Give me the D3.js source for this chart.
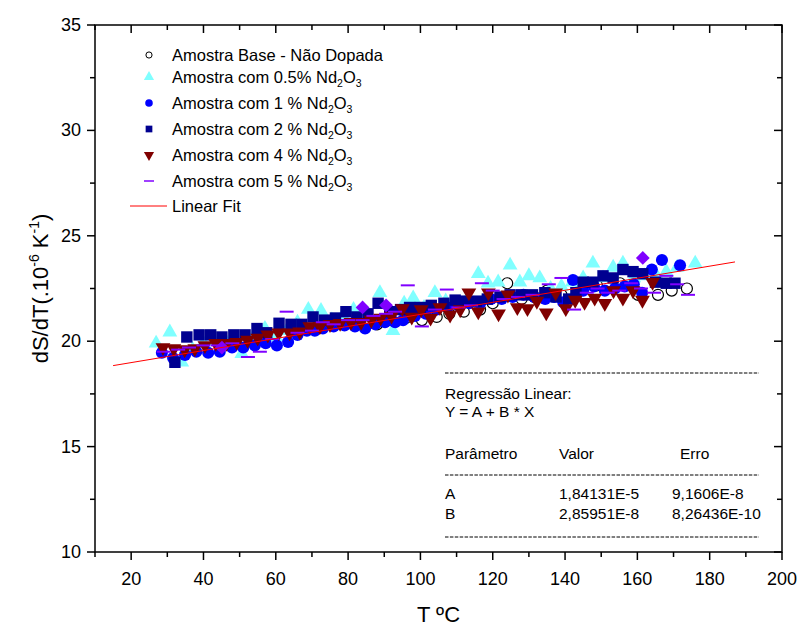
<!DOCTYPE html>
<html>
<head>
<meta charset="utf-8">
<script src="https://cdn.jsdelivr.net/npm/d3@7"></script>
<style>
  body { margin: 0; background: #fff; }
  svg text { font-family: Arial, "Liberation Sans", sans-serif; }
</style>
</head>
<body>
<script>
// values: [T (ºC), dS/dT (1e-6 K^-1)]
const baseSample = [[88,20.8],[92,21.0],[96,21.1],[100.4,21.0],[104.5,21.15],[108,21.3],[112,21.4],[116.5,21.5],[120,21.8],[124,22.75],[128,22.0],[131.5,22.1],[135,22.4],[139,22.2],[143.3,22.3],[148.8,22.65],[155.2,22.75],[160.2,22.2],[165.7,22.2],[169.5,22.4],[173.7,22.5]];
const nd05 = [[26.9,19.9],[30.7,20.43],[34,19.0],[37,19.6],[40,19.9],[43,20.0],[46.5,19.9],[50.6,19.4],[53.5,20.1],[57,20.6],[60,20.2],[63,20.5],[66,20.9],[69,21.5],[72.5,21.45],[75.5,21.0],[78.5,21.2],[81.5,21.5],[84.5,21.4],[88.8,22.3],[92.4,20.5],[95.5,21.8],[98,22.05],[101,21.6],[104,22.3],[107,21.9],[110,21.8],[113,22.0],[116,23.2],[118.7,22.75],[121.5,22.8],[124.8,23.6],[127.5,22.8],[130,23.1],[133,23.0],[136,22.5],[139,22.6],[142,22.8],[145,23.0],[147.7,23.7],[150.5,23.0],[153.3,23.5],[156,23.7],[159,23.0],[162,23.1],[165,23.2],[168,23.3],[171,23.5],[176,23.7]];
const nd1 = [[28.5,19.45],[31.6,19.2],[34.9,19.35],[38,19.5],[41.3,19.45],[44.5,19.5],[47.9,19.7],[51,19.7],[54.2,19.8],[57.2,19.9],[60.3,19.8],[63.4,19.96],[66,20.3],[68.6,20.5],[70.8,20.5],[73,20.6],[76,20.7],[79,20.75],[81.9,20.7],[84.7,20.6],[87.5,20.8],[90.2,20.9],[93,20.9],[95.2,21.0],[98.5,21.2],[101.5,21.3],[104.5,21.5],[107.5,21.6],[110.5,21.7],[113.5,21.8],[116.5,21.8],[119.5,22.0],[122.5,22.0],[125.5,22.1],[128.5,22.2],[131.5,22.1],[134.5,22.0],[137,22.1],[139.5,21.85],[142.2,22.9],[145,22.4],[148,22.6],[151,22.4],[153.8,22.5],[156.5,22.6],[159,22.7],[161.3,22.3],[164,23.4],[166.8,23.85],[171.8,23.6]];
const nd2 = [[32.1,19.0],[35.4,20.2],[38.8,20.3],[42,20.3],[45.1,20.2],[48.4,20.3],[51.5,20.3],[54.8,20.6],[57.5,20.4],[60.9,20.85],[64.2,20.8],[67.2,20.8],[70.3,21.15],[73.5,21.0],[76.5,21.1],[79.4,21.4],[82.4,21.15],[85.5,21.3],[88.3,21.8],[91.5,21.4],[94.5,21.5],[97,21.6],[100,21.6],[103,21.7],[106.5,21.8],[109.6,21.95],[112.5,21.9],[115.5,21.9],[118.5,22.0],[122,22.1],[124.8,22.2],[128,22.2],[131,22.2],[134.4,22.3],[137.5,22.1],[141,22.0],[143,22.3],[145,22.8],[147.7,22.8],[150.5,23.1],[153.3,23.0],[156,23.4],[158.8,23.3],[161.5,23.2],[165,22.8],[168,22.75],[170.4,22.75]];
const nd4 = [[28.8,19.7],[31.8,19.65],[34.8,19.6],[37.6,19.65],[40.4,19.8],[43.4,19.9],[46.4,19.9],[49.2,19.95],[52.2,20.05],[55,20.15],[57.8,20.3],[60.8,20.4],[63.8,20.4],[66.6,20.45],[69.4,20.7],[72.2,20.7],[75,20.8],[77.8,20.85],[80.8,20.9],[83.6,20.9],[86.4,21.0],[89,21.1],[92,21.2],[95,21.55],[97.6,21.15],[100.2,21.5],[102.8,21.1],[105.4,21.6],[108.2,21.25],[111,21.5],[113.4,22.3],[116,21.4],[118.8,22.3],[121.6,21.3],[124.2,22.2],[126.8,21.6],[129.6,21.55],[132.2,21.9],[134.8,21.35],[137.4,22.3],[140.2,21.55],[142.8,21.95],[145.4,21.85],[148.2,22.05],[151,21.8],[153.4,22.4],[156,22.05],[158.8,22.4],[161.4,21.95],[164.2,22.8]];
const nd5 = [[29,19.5],[33,19.6],[36,19.7],[40,19.8],[44,19.8],[48,19.9],[52.3,19.25],[55.6,19.5],[59,20.1],[63,21.4],[66,20.4],[70,20.5],[73,20.9],[76,20.8],[80,21.0],[84,21.0],[87,21.2],[90.5,21.3],[93,21.4],[96.5,22.65],[100.4,20.7],[104,21.5],[107.3,22.45],[110.5,21.6],[114,21.7],[117,22.75],[120,22.4],[123,22.0],[127,22.1],[131,22.2],[135.5,22.7],[139,23.0],[142.5,21.5],[146,22.3],[149,22.5],[151.8,22.3],[155,22.4],[158.3,22.75],[161,22.5],[164.6,22.3],[168,23.1],[171,22.7],[174,22.2]];
const extraDiamonds = [[45.1,19.7],[84,21.6],[90.5,21.7],[161.5,23.95]];

// linear fit: Y = A + B*X  (A, B in SI, shown in units of 1e-6)
const fitA = 1.84131e-5, fitB = 2.85951e-8;
const fitRange = [15, 187];

const xTicks = [20, 40, 60, 80, 100, 120, 140, 160, 180, 200];
const yTicks = [10, 15, 20, 25, 30, 35];

const legendLabels = [
  {pre: "Amostra Base - Não Dopada"},
  {pre: "Amostra com 0.5% Nd", sub1: "2", mid: "O", sub2: "3"},
  {pre: "Amostra com 1 % Nd", sub1: "2", mid: "O", sub2: "3"},
  {pre: "Amostra com 2 % Nd", sub1: "2", mid: "O", sub2: "3"},
  {pre: "Amostra com 4 % Nd", sub1: "2", mid: "O", sub2: "3"},
  {pre: "Amostra com 5 % Nd", sub1: "2", mid: "O", sub2: "3"},
  {pre: "Linear Fit"}
];

const regTitle = ["Regressão Linear:", "Y = A + B * X"];
const regHeader = ["Parâmetro", "Valor", "Erro"];
const regRows = [["A", "1,84131E-5", "9,1606E-8"], ["B", "2,85951E-8", "8,26436E-10"]];

const W = 801, H = 628;
const m = {left: 95, right: 19, top: 25, bottom: 76};

const svg = d3.select("body").append("svg")
  .attr("width", W).attr("height", H);

const x = d3.scaleLinear().domain([10, 200]).range([m.left, W - m.right]);
const y = d3.scaleLinear().domain([10, 35]).range([H - m.bottom, m.top]);

const ink = "#000";
const colors = {
  base: "#000", nd05: "#80ffff", nd1: "#0000ff", nd2: "#000090",
  nd4: "#800000", nd5: "#8000ff", fit: "#ff0000"
};

// frame + ticks
const xMinor = d3.range(10, 201, 10).filter(v => v % 20 !== 0);
const yMinor = d3.range(12.5, 35, 5);

function tickLines(g, vals, fn) {
  g.selectAll(null).data(vals).join("line").each(fn)
    .attr("stroke", ink).attr("stroke-width", 1.5);
}
const axes = svg.append("g");
// bottom outward
tickLines(axes, xTicks, function(d) { d3.select(this).attr("x1", x(d)).attr("x2", x(d)).attr("y1", y(10)).attr("y2", y(10) + 8); });
tickLines(axes, xMinor, function(d) { d3.select(this).attr("x1", x(d)).attr("x2", x(d)).attr("y1", y(10)).attr("y2", y(10) + 5); });
// top inward
tickLines(axes, xTicks, function(d) { d3.select(this).attr("x1", x(d)).attr("x2", x(d)).attr("y1", y(35)).attr("y2", y(35) + 8); });
tickLines(axes, xMinor, function(d) { d3.select(this).attr("x1", x(d)).attr("x2", x(d)).attr("y1", y(35)).attr("y2", y(35) + 5); });
// left outward
tickLines(axes, yTicks, function(d) { d3.select(this).attr("y1", y(d)).attr("y2", y(d)).attr("x1", x(10)).attr("x2", x(10) - 8); });
tickLines(axes, yMinor, function(d) { d3.select(this).attr("y1", y(d)).attr("y2", y(d)).attr("x1", x(10)).attr("x2", x(10) - 5); });
// right inward
tickLines(axes, yTicks, function(d) { d3.select(this).attr("y1", y(d)).attr("y2", y(d)).attr("x1", x(200)).attr("x2", x(200) - 8); });
tickLines(axes, yMinor, function(d) { d3.select(this).attr("y1", y(d)).attr("y2", y(d)).attr("x1", x(200)).attr("x2", x(200) - 5); });

axes.append("rect")
  .attr("x", x(10)).attr("y", y(35))
  .attr("width", x(200) - x(10)).attr("height", y(10) - y(35))
  .attr("fill", "none").attr("stroke", ink).attr("stroke-width", 1.5);

axes.selectAll(".xl").data(xTicks).join("text")
  .attr("x", d => x(d)).attr("y", y(10) + 33)
  .attr("text-anchor", "middle").attr("font-size", 18).text(d => d);
axes.selectAll(".yl").data(yTicks).join("text")
  .attr("x", x(10) - 14).attr("y", d => y(d) + 6)
  .attr("text-anchor", "end").attr("font-size", 18).text(d => d);

svg.append("text").attr("x", (x(10) + x(200)) / 2).attr("y", 622)
  .attr("text-anchor", "middle").attr("font-size", 22).text("T ºC");

const yl = svg.append("text")
  .attr("transform", `translate(48,${(y(10) + y(35)) / 2}) rotate(-90)`)
  .attr("text-anchor", "middle").attr("font-size", 22);
yl.append("tspan").text("dS/dT(.10");
yl.append("tspan").attr("dy", -9).attr("font-size", 14).text("-6");
yl.append("tspan").attr("dy", 9).text(" K");
yl.append("tspan").attr("dy", -9).attr("font-size", 14).text("-1");
yl.append("tspan").attr("dy", 9).text(")");

// data
const plot = svg.append("g");
const sym = (type, size) => d3.symbol().type(type).size(size)();
const pt = d => `translate(${x(d[0])},${y(d[1])})`;

plot.append("g").selectAll("path").data(baseSample).join("path")
  .attr("d", sym(d3.symbolCircle, 95)).attr("transform", pt)
  .attr("fill", "none").attr("stroke", colors.base).attr("stroke-width", 1.2);
plot.append("g").selectAll("path").data(nd05).join("path")
  .attr("d", sym(d3.symbolTriangle, 95)).attr("transform", pt).attr("fill", colors.nd05);
plot.append("g").selectAll("path").data(nd1).join("path")
  .attr("d", sym(d3.symbolCircle, 115)).attr("transform", pt).attr("fill", colors.nd1);
plot.append("g").selectAll("path").data(nd2).join("path")
  .attr("d", sym(d3.symbolSquare, 130)).attr("transform", pt).attr("fill", colors.nd2);
plot.append("g").selectAll("path").data(nd4).join("path")
  .attr("d", sym(d3.symbolTriangle, 95)).attr("transform", d => pt(d) + " rotate(180)").attr("fill", colors.nd4);
plot.append("g").selectAll("line").data(nd5).join("line")
  .attr("x1", d => x(d[0]) - 7).attr("x2", d => x(d[0]) + 7)
  .attr("y1", d => y(d[1])).attr("y2", d => y(d[1]))
  .attr("stroke", colors.nd5).attr("stroke-width", 2);
plot.append("g").selectAll("path").data(extraDiamonds).join("path")
  .attr("d", sym(d3.symbolSquare, 95)).attr("transform", d => pt(d) + " rotate(45)").attr("fill", colors.nd5);

const fitLine = d3.line().x(d => x(d)).y(d => y((fitA + fitB * d) * 1e6));
plot.append("path").attr("d", fitLine(fitRange))
  .attr("fill", "none").attr("stroke", colors.fit).attr("stroke-width", 1);

// legend
const leg = svg.append("g");
const rowY = [55, 77, 103, 129, 155, 181, 206];
const lx = 149;
leg.append("path").attr("d", sym(d3.symbolCircle, 30)).attr("transform", `translate(${lx},${rowY[0]})`)
  .attr("fill", "none").attr("stroke", colors.base);
leg.append("path").attr("d", sym(d3.symbolTriangle, 45)).attr("transform", `translate(${lx},${rowY[1]})`).attr("fill", colors.nd05);
leg.append("path").attr("d", sym(d3.symbolCircle, 45)).attr("transform", `translate(${lx},${rowY[2]})`).attr("fill", colors.nd1);
leg.append("path").attr("d", sym(d3.symbolSquare, 45)).attr("transform", `translate(${lx},${rowY[3]})`).attr("fill", colors.nd2);
leg.append("path").attr("d", sym(d3.symbolTriangle, 45)).attr("transform", `translate(${lx},${rowY[4]}) rotate(180)`).attr("fill", colors.nd4);
leg.append("line").attr("x1", lx - 5).attr("x2", lx + 5).attr("y1", rowY[5]).attr("y2", rowY[5])
  .attr("stroke", colors.nd5).attr("stroke-width", 1.5);
leg.append("line").attr("x1", 130).attr("x2", 167).attr("y1", rowY[6]).attr("y2", rowY[6])
  .attr("stroke", colors.fit).attr("stroke-width", 1);

legendLabels.forEach((l, i) => {
  const t = leg.append("text").attr("x", 172).attr("y", rowY[i] + 6).attr("font-size", 16.5);
  t.append("tspan").text(l.pre);
  if (l.sub1) {
    t.append("tspan").attr("dy", 4).attr("font-size", 10.5).text(l.sub1);
    t.append("tspan").attr("dy", -4).text(l.mid);
    t.append("tspan").attr("dy", 4).attr("font-size", 10.5).text(l.sub2);
  }
});

// regression box
const reg = svg.append("g").attr("font-size", 15.5);
const dash = yy => reg.append("line").attr("x1", 445).attr("x2", 759).attr("y1", yy).attr("y2", yy)
  .attr("stroke", ink).attr("stroke-width", 1).attr("stroke-dasharray", "3.5,1.4");
dash(373); dash(475); dash(537);
reg.append("text").attr("x", 445).attr("y", 399).text(regTitle[0]);
reg.append("text").attr("x", 445).attr("y", 417).text(regTitle[1]);
const colX = [445, 559, 680];
regHeader.forEach((h, i) => reg.append("text").attr("x", colX[i]).attr("y", 459).text(h));
const valX = [445, 559, 672];
regRows.forEach((r, j) => r.forEach((v, i) =>
  reg.append("text").attr("x", valX[i]).attr("y", 499 + j * 20).text(v)));
</script>
</body>
</html>
